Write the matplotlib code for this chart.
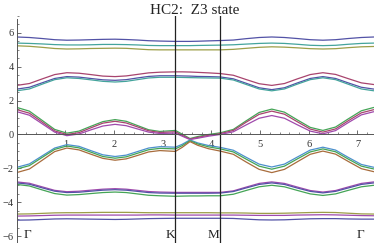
import matplotlib
matplotlib.use("Agg")
import matplotlib.pyplot as plt
from matplotlib.ticker import MultipleLocator

# k-path positions (Gamma -> K -> M -> Gamma)
k_path = [0.00, 0.26, 0.52, 0.78, 1.03, 1.28, 1.52, 1.77, 2.02, 2.25, 2.48, 2.71, 2.94, 3.26,
          3.40, 3.56, 3.72, 3.94, 4.18,
          4.45, 4.71, 4.98, 5.24, 5.50, 5.76, 6.03, 6.29, 6.55, 6.81, 7.08, 7.34]
k_K = 3.26
k_M = 4.18
sym_labels = ["\u0393", "K", "M", "\u0393"]
sym_label_x = [0.22, 3.15, 4.04, 7.06]

# band energies
band_a1 = [5.76, 5.73, 5.67, 5.60, 5.57, 5.58, 5.60, 5.62, 5.63, 5.61, 5.58, 5.54, 5.52, 5.50,
           5.50, 5.50, 5.51, 5.53, 5.55,
           5.58, 5.66, 5.73, 5.76, 5.73, 5.67, 5.60, 5.57, 5.60, 5.67, 5.73, 5.76]
band_a2 = [5.40, 5.38, 5.35, 5.31, 5.29, 5.29, 5.30, 5.32, 5.32, 5.31, 5.29, 5.26, 5.25, 5.25,
           5.25, 5.25, 5.26, 5.27, 5.28,
           5.30, 5.34, 5.38, 5.40, 5.38, 5.33, 5.27, 5.25, 5.27, 5.33, 5.38, 5.40]
band_a3 = [5.24, 5.21, 5.15, 5.08, 5.05, 5.06, 5.08, 5.09, 5.10, 5.09, 5.05, 5.01, 5.00, 5.00,
           5.00, 5.00, 5.00, 5.00, 5.00,
           5.03, 5.09, 5.15, 5.18, 5.16, 5.12, 5.07, 5.05, 5.07, 5.13, 5.18, 5.20]

band_b1 = [2.90, 3.01, 3.28, 3.54, 3.65, 3.62, 3.54, 3.45, 3.42, 3.46, 3.55, 3.64, 3.68, 3.70,
           3.70, 3.69, 3.67, 3.64, 3.60,
           3.50, 3.25, 3.00, 2.90, 3.01, 3.28, 3.54, 3.65, 3.55, 3.30, 3.05, 2.95]
band_b2 = [2.68, 2.79, 3.05, 3.31, 3.42, 3.39, 3.31, 3.23, 3.20, 3.24, 3.34, 3.43, 3.47, 3.47,
           3.46, 3.45, 3.43, 3.42, 3.40,
           3.29, 3.03, 2.76, 2.65, 2.76, 3.04, 3.31, 3.42, 3.31, 3.05, 2.79, 2.68]
band_b3 = [2.58, 2.69, 2.97, 3.24, 3.35, 3.31, 3.23, 3.14, 3.10, 3.14, 3.24, 3.34, 3.38, 3.38,
           3.37, 3.36, 3.35, 3.34, 3.33,
           3.22, 2.96, 2.69, 2.58, 2.69, 2.97, 3.24, 3.35, 3.24, 2.97, 2.69, 2.58]

band_c1 = [1.60, 1.38, 0.84, 0.30, 0.08, 0.20, 0.48, 0.76, 0.88, 0.78, 0.53, 0.28, 0.18, 0.24,
           0.02, -0.24, -0.12, 0.00, 0.10,
           0.30, 0.80, 1.30, 1.50, 1.32, 0.87, 0.42, 0.24, 0.44, 0.92, 1.40, 1.60]
band_c2 = [1.47, 1.26, 0.74, 0.21, 0.00, 0.11, 0.39, 0.67, 0.78, 0.68, 0.45, 0.22, 0.12, 0.16,
           -0.05, -0.27, -0.17, -0.05, 0.05,
           0.24, 0.72, 1.19, 1.38, 1.20, 0.76, 0.32, 0.14, 0.33, 0.81, 1.28, 1.47]
band_c3 = [1.35, 1.14, 0.64, 0.14, -0.07, 0.03, 0.27, 0.50, 0.60, 0.52, 0.33, 0.14, 0.06, 0.08,
           -0.10, -0.30, -0.22, -0.10, 0.00,
           0.16, 0.56, 0.96, 1.12, 0.96, 0.58, 0.20, 0.04, 0.23, 0.70, 1.16, 1.35]

band_d1 = [-1.94, -1.74, -1.27, -0.80, -0.60, -0.70, -0.95, -1.20, -1.30, -1.22, -1.01, -0.80, -0.72, -0.75,
           -0.58, -0.32, -0.50, -0.65, -0.76,
           -0.93, -1.34, -1.75, -1.92, -1.75, -1.34, -0.92, -0.75, -0.92, -1.35, -1.77, -1.94]
band_d2 = [-2.04, -1.84, -1.36, -0.88, -0.68, -0.79, -1.04, -1.30, -1.40, -1.32, -1.11, -0.90, -0.82, -0.85,
           -0.66, -0.37, -0.56, -0.73, -0.85,
           -1.03, -1.45, -1.87, -2.05, -1.87, -1.45, -1.03, -0.85, -1.02, -1.45, -1.87, -2.04]
band_d3 = [-2.25, -2.04, -1.53, -1.01, -0.80, -0.91, -1.16, -1.41, -1.52, -1.44, -1.24, -1.03, -0.95, -1.00,
           -0.76, -0.42, -0.64, -0.84, -0.98,
           -1.17, -1.62, -2.06, -2.25, -2.06, -1.62, -1.17, -0.98, -1.16, -1.59, -2.02, -2.20]

band_e1 = [-2.80, -2.88, -3.09, -3.30, -3.38, -3.35, -3.29, -3.23, -3.20, -3.23, -3.30, -3.37, -3.40, -3.42,
           -3.42, -3.42, -3.42, -3.42, -3.42,
           -3.33, -3.11, -2.89, -2.80, -2.89, -3.10, -3.31, -3.40, -3.31, -3.10, -2.89, -2.80]
band_e2 = [-2.86, -2.94, -3.15, -3.35, -3.43, -3.41, -3.35, -3.29, -3.26, -3.29, -3.36, -3.43, -3.46, -3.47,
           -3.47, -3.47, -3.47, -3.47, -3.46,
           -3.37, -3.16, -2.95, -2.86, -2.95, -3.16, -3.36, -3.45, -3.36, -3.16, -2.95, -2.86]
band_e3 = [-2.95, -3.04, -3.27, -3.49, -3.58, -3.55, -3.49, -3.43, -3.40, -3.43, -3.51, -3.59, -3.62, -3.65,
           -3.64, -3.63, -3.63, -3.62, -3.62,
           -3.53, -3.31, -3.09, -3.00, -3.09, -3.30, -3.51, -3.60, -3.51, -3.30, -3.09, -3.00]

band_f1 = [-4.70, -4.69, -4.66, -4.63, -4.62, -4.62, -4.61, -4.60, -4.60, -4.60, -4.61, -4.62, -4.62, -4.62,
           -4.62, -4.62, -4.62, -4.62, -4.63,
           -4.63, -4.64, -4.66, -4.66, -4.65, -4.63, -4.61, -4.60, -4.61, -4.65, -4.69, -4.70]
band_f2 = [-4.82, -4.81, -4.79, -4.77, -4.76, -4.76, -4.76, -4.76, -4.76, -4.76, -4.76, -4.75, -4.75, -4.76,
           -4.76, -4.76, -4.76, -4.76, -4.76,
           -4.76, -4.77, -4.78, -4.78, -4.78, -4.76, -4.75, -4.74, -4.75, -4.77, -4.79, -4.80]
band_f3 = [-5.06, -5.05, -5.02, -4.99, -4.98, -4.99, -5.00, -5.01, -5.02, -5.01, -4.99, -4.97, -4.96, -4.95,
           -4.95, -4.95, -4.95, -4.95, -4.95,
           -4.96, -5.00, -5.04, -5.05, -5.04, -5.01, -4.98, -4.97, -4.97, -4.99, -5.00, -5.00]

# Mathematica-like line colours
c_blue = "#5252a6"
c_maroon = "#a8446e"
c_olive = "#9c9e48"
c_green = "#44a456"
c_teal = "#44a49c"
c_magenta = "#a04aac"
c_brown = "#a86c3c"
c_sky = "#4c90cc"

bands = [
    (band_a1, c_blue), (band_a2, c_teal), (band_a3, c_olive),
    (band_b1, c_maroon), (band_b2, c_blue), (band_b3, c_teal),
    (band_c1, c_green), (band_c2, c_maroon), (band_c3, c_magenta),
    (band_d1, c_sky), (band_d2, c_green), (band_d3, c_brown),
    (band_e1, c_magenta), (band_e2, c_blue), (band_e3, c_green),
    (band_f1, c_olive), (band_f2, c_magenta), (band_f3, c_blue),
]

serif = ["Liberation Serif", "DejaVu Serif"]
axis_col = "#555555"

fig = plt.figure(figsize=(3.74, 2.43), dpi=100)
ax = fig.add_axes([16.7 / 374, 0.0, 1 - 16.7 / 374, (243 - 16) / 243])

for vals, col in bands:
    ax.plot(k_path, vals, color=col, lw=0.9, solid_capstyle="butt")

ax.axvline(k_K, color="#222222", lw=0.9)
ax.axvline(k_M, color="#222222", lw=0.9)

for lab, xx in zip(sym_labels, sym_label_x):
    ax.text(xx, -5.95, lab, ha="center", va="center", fontsize=9.5,
            family=serif, color="#222222")

ax.set_xlim(0, 7.34)
ax.set_ylim(-6.41, 7.0)

ax.spines["top"].set_visible(False)
ax.spines["right"].set_visible(False)
ax.spines["bottom"].set_position(("data", 0))
ax.spines["left"].set_position(("data", 0))
ax.spines["left"].set_bounds(-6.41, 6.85)
for s in ("bottom", "left"):
    ax.spines[s].set_color(axis_col)
    ax.spines[s].set_linewidth(0.7)

ax.xaxis.set_minor_locator(MultipleLocator(0.2))
ax.yaxis.set_minor_locator(MultipleLocator(0.5))
ax.set_xticks([1, 2, 3, 4, 5, 6, 7])
ax.set_yticks([-6, -4, -2, 0, 2, 4, 6])
ax.set_yticklabels(["\u22126", "\u22124", "\u22122", "0", "2", "4", "6"])

ax.tick_params(which="major", direction="in", length=3, width=0.6, color=axis_col,
               labelsize=7.5, labelcolor="#333333", pad=2)
ax.tick_params(axis="x", which="major", pad=4)
ax.tick_params(which="minor", direction="in", length=1.6, width=0.5, color=axis_col)
for t in ax.get_xticklabels() + ax.get_yticklabels():
    t.set_family(serif)

fig.text(195 / 374, 1 - 10 / 243, "HC2:  Z3 state", ha="center", va="center",
         fontsize=11, family=serif, color="#222222")

fig.savefig("out.png", dpi=100)
